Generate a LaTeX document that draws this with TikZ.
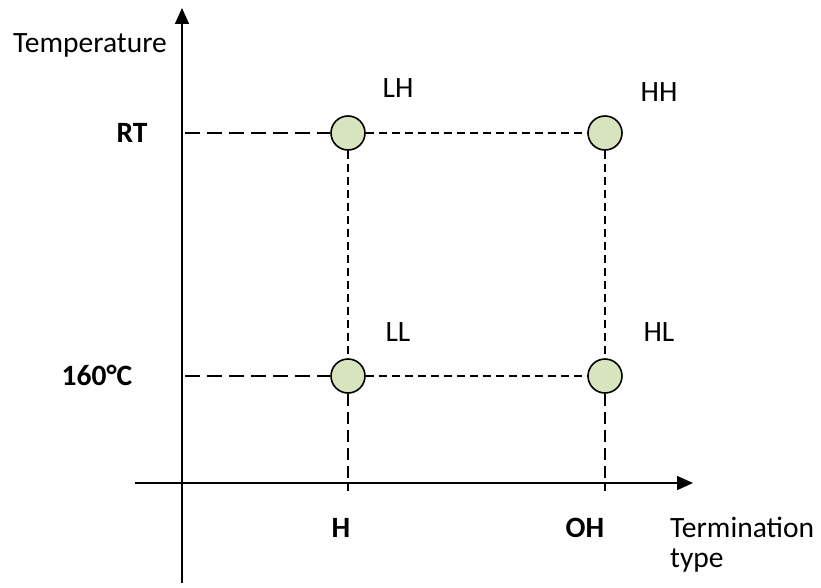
\documentclass[tikz,border=0pt]{standalone}
\usepackage{fontspec}
\setmainfont{Carlito}
\usetikzlibrary{arrows.meta}
\definecolor{stategreen}{HTML}{D7E4BD}

\begin{document}
\begin{tikzpicture}[
    x=1pt, y=-1pt,
    font=\fontsize{29.5}{34}\selectfont,
    axis/.style={line width=1.6pt, -{Triangle[length=16pt,width=14pt]}},
    state/.style={circle, draw, line width=1.6pt, fill=stategreen, minimum size=34pt, inner sep=0pt},
    guide/.style={line width=1.5pt, dash pattern=on 15pt off 7pt},
    drop/.style={line width=1.5pt, dash pattern=on 12pt off 6pt},
    link/.style={line width=1.5pt, dash pattern=on 8pt off 5pt},
    tick/.style={font=\fontsize{29.5}{34}\selectfont\bfseries}
]
\useasboundingbox (0,0) rectangle (821,588);

% Axes
\coordinate (yfoot) at (182,583);
\coordinate (ytop) at (182,8);
\coordinate (xfoot) at (135,483);
\coordinate (xtop) at (693,483);
\draw[axis] (yfoot) -- (ytop);
\draw[axis] (xfoot) -- (xtop);

% Axis titles
\node[anchor=west, inner sep=0pt] (ytitle) at (13,45) {Temperature};
\node[anchor=west, inner sep=0pt] (xtitle) at (670,527) {Termination};
\node[anchor=west, inner sep=0pt] (xtitle2) at (670,561) {type};

% Tick labels
\node[tick] (RT) at (132,133) {RT};
\node[tick] (T160) at (97,375) {160°C};
\node[tick] (H) at (341,528) {H};
\node[tick] (OH) at (585,528) {OH};

% States
\node[state] (LH) at (348,133) {};
\node[state] (HH) at (605,133) {};
\node[state] (LL) at (348,376) {};
\node[state] (HL) at (605,376) {};

% State labels
\node (LHlab) at (398,88) {LH};
\node (HHlab) at (659,92) {HH};
\node (LLlab) at (398,332) {LL};
\node (HLlab) at (659,332) {HL};

% Guide lines
\coordinate (yRT) at (185,133);
\coordinate (y160) at (185,376);
\coordinate (xH) at (348,491);
\coordinate (xOH) at (605,491);
\draw[guide] (yRT) -- (LH);
\draw[guide] (y160) -- (LL);
\draw[drop] (LL) -- (xH);
\draw[drop] (HL) -- (xOH);

% Links between states
\draw[link] (LH) -- (HH);
\draw[link] (LL) -- (HL);
\draw[link] (LH) -- (LL);
\draw[link] (HH) -- (HL);

\end{tikzpicture}
\end{document}
